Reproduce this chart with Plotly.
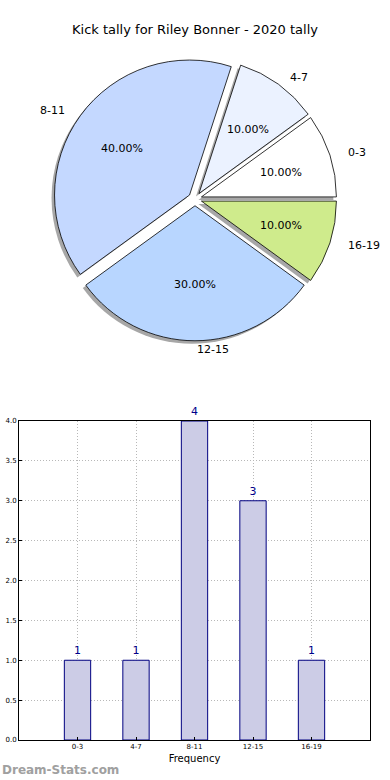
import math
import plotly.graph_objects as go

W, H = 390, 780

categories = ["0-3", "4-7", "8-11", "12-15", "16-19"]
counts = [1, 1, 4, 3, 1]
pie_colors = ["#FFFFFF", "#EBF2FF", "#C4D8FF", "#B8D6FF", "#CFEB8C"]
title_text = "Kick tally for Riley Bonner - 2020 tally"
y_ticks = [0.0, 0.5, 1.0, 1.5, 2.0, 2.5, 3.0, 3.5, 4.0]

FONT = "DejaVu Sans"
PULL = 0.05
R = 135.0
CX, CY = 195.0, 199.0
half = R * (1 + PULL)
ROT = 54


def px2paper(x, y):
    return x / W, 1 - y / H


fig = go.Figure()

sx, sy = CX - 3, CY + 3
fig.add_trace(go.Pie(
    labels=categories, values=counts, sort=False, direction="counterclockwise",
    rotation=ROT, pull=[PULL] * len(counts), textinfo="none", hoverinfo="skip",
    marker=dict(colors=["#8a8a8a"] * len(counts), line=dict(width=0)),
    opacity=0.75, showlegend=False,
    domain=dict(x=[(sx - half) / W, (sx + half) / W],
                y=[1 - (sy + half) / H, 1 - (sy - half) / H]),
))
fig.add_trace(go.Pie(
    labels=categories, values=counts, sort=False, direction="counterclockwise",
    rotation=ROT, pull=[PULL] * len(counts), textinfo="none",
    marker=dict(colors=pie_colors, line=dict(color="#000000", width=0.8)),
    showlegend=False,
    domain=dict(x=[(CX - half) / W, (CX + half) / W],
                y=[1 - (CY + half) / H, 1 - (CY - half) / H]),
))

annotations = []
total = sum(counts)
start = 0.0
for cat, v in zip(categories, counts):
    frac = v / total
    mid = (start + frac / 2) * 2 * math.pi
    start += frac
    c, s = math.cos(mid), math.sin(mid)
    d = (0.6 + PULL) * R
    x, y = px2paper(CX + d * c * 1.03, CY - d * s * 0.98)
    annotations.append(dict(x=x, y=y, xref="paper", yref="paper", text=f"{frac*100:.2f}%",
                            showarrow=False, font=dict(family=FONT, size=11, color="#000"),
                            xanchor="center", yanchor="middle"))
    d = (1.1 + PULL) * R
    x, y = px2paper(CX + d * c * 1.02, CY - d * s * 0.97)
    annotations.append(dict(x=x, y=y, xref="paper", yref="paper", text=cat,
                            showarrow=False, font=dict(family=FONT, size=11, color="#000"),
                            xanchor="left" if c >= -1e-9 else "right", yanchor="middle"))

fig.add_trace(go.Bar(
    x=categories, y=counts, width=0.45, text=[str(v) for v in counts],
    textposition="outside", cliponaxis=False,
    textfont=dict(family=FONT, size=11, color="#00008B"),
    marker=dict(color="#CCCCE6", line=dict(color="#000080", width=1)),
    xaxis="x", yaxis="y", showlegend=False,
))

annotations.append(dict(x=0.5, y=1 - 30 / H, xref="paper", yref="paper", text=title_text,
                        showarrow=False, font=dict(family=FONT, size=13, color="#000"),
                        xanchor="center", yanchor="middle"))
annotations.append(dict(x=0.0, y=1 - 770 / H, xref="paper", yref="paper",
                        text="<b>Dream-Stats.com</b>", showarrow=False,
                        font=dict(family=FONT, size=12, color="#A0A0A0"),
                        xanchor="left", yanchor="middle"))

fig.update_layout(
    width=W, height=H, margin=dict(l=0, r=0, t=0, b=0, autoexpand=False),
    paper_bgcolor="white", plot_bgcolor="white",
    annotations=annotations,
    xaxis=dict(domain=[19 / W, 370 / W], range=[-1, 5], type="category",
               anchor="y", showline=True, linecolor="#000", linewidth=1, mirror=True,
               ticks="inside", ticklen=3, tickcolor="#000", automargin=False,
               showgrid=True, gridcolor="#B8B8B8", griddash="1px,2px", gridwidth=1,
               tickfont=dict(family=FONT, size=7, color="#000"),
               title=dict(text="Frequency", font=dict(family=FONT, size=10, color="#000"),
                          standoff=4),
               fixedrange=True),
    yaxis=dict(domain=[1 - 740 / H, 1 - 421 / H], range=[0, 4], anchor="x",
               tickvals=y_ticks, tickformat=".1f", automargin=False,
               showline=True, linecolor="#000", linewidth=1, mirror=True,
               ticks="inside", ticklen=3, tickcolor="#000",
               showgrid=True, gridcolor="#B8B8B8", griddash="1px,2px", gridwidth=1,
               zeroline=False,
               tickfont=dict(family=FONT, size=7, color="#000"), fixedrange=True),
)

fig.write_html("out.html", config={"displayModeBar": False},
               post_script="document.body.style.margin='0';document.body.style.padding='0';")
